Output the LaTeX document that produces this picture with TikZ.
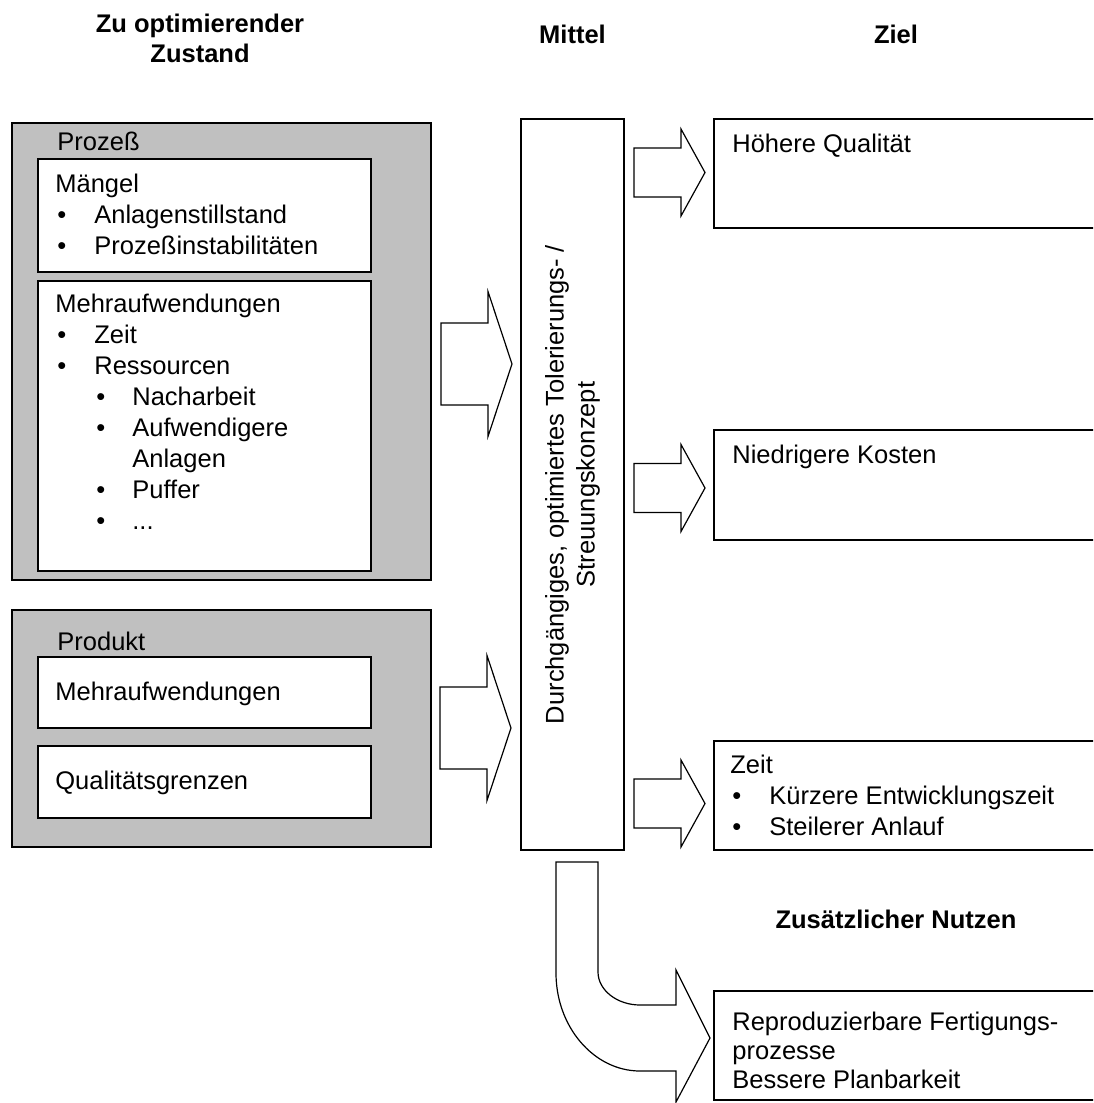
\documentclass[tikz,border=0pt]{standalone}
\usepackage{fontspec}
\setmainfont{Liberation Sans}
\usepackage{tikz}
\usetikzlibrary{calc,positioning}
\definecolor{boxgray}{HTML}{C0C0C0}
\tikzstyle{graybox} = [draw,fill=boxgray,line width=0.6pt,inner sep=0pt]
\tikzstyle{box} = [draw,fill=white,line width=0.6pt,inner sep=0pt]
\tikzstyle{txt} = [anchor=north west,align=left,inner sep=0pt,font=\fontsize{12.75pt}{15.5pt}\selectfont]
\tikzstyle{head} = [anchor=north,align=center,inner sep=0pt,font=\fontsize{12.75pt}{15pt}\selectfont\bfseries]
\tikzstyle{arrowline} = [draw,fill=white,line width=0.6pt,line join=miter]
\newcommand{\bul}{\makebox[19.5pt][l]{\hspace{1pt}\textbullet}}
\newcommand{\subbul}{\hspace{19.5pt}\makebox[19pt][l]{\hspace{1pt}\textbullet}}
% horizontal block arrow: start, tip, half shaft, half head, head length
\newcommand{\fatarrow}[5]{%
	\draw[arrowline] let \p1=(#1), \p2=(#2) in
		(\x1,\y1+#3) -- (\x2-#5,\y1+#3) -- (\x2-#5,\y1+#4) -- (\x2,\y1)
		-- (\x2-#5,\y1-#4) -- (\x2-#5,\y1-#3) -- (\x1,\y1-#3) -- cycle;}

\begin{document}
\begin{tikzpicture}[x=0.5pt,y=-0.5pt]
			\clip (0,0) rectangle (1093,1103);
			
			% Spaltenkoepfe
			\node[head] (hzustand) at (200,13.5) {Zu optimierender\\Zustand};
			\node[head] (hmittel) at (572.5,24.5) {Mittel};
			\node[head] (hziel) at (896,24.5) {Ziel};
			
			% Prozess
			\node[graybox,minimum width=209.5pt,minimum height=228.5pt] (prozess) at (221.5,351.5) {};
			\node[txt] (tprozess) at (57,131.5) {Prozeß};
			\node[box,minimum width=166.5pt,minimum height=56.5pt] (maengel) at (204.5,215.5) {};
			\node[txt] (tmaengel) at (55,173.5) {Mängel\\\bul Anlagenstillstand\\\bul Prozeßinstabilitäten};
			\node[box,minimum width=166.5pt,minimum height=145pt] (mehrauf) at (204.5,426) {};
			\node[txt] (tmehrauf) at (55,293.5) {Mehraufwendungen\\\bul Zeit\\\bul Ressourcen\\\subbul Nacharbeit\\\subbul Aufwendigere\\\hspace{38.5pt}Anlagen\\\subbul Puffer\\\subbul ...};
			
			% Produkt
			\node[graybox,minimum width=209.5pt,minimum height=118.5pt] (produkt) at (221.5,728.5) {};
			\node[txt] (tprodukt) at (57,631.5) {Produkt};
			\node[box,minimum width=166.5pt,minimum height=35.5pt] (prodmehr) at (204.5,692.5) {};
			\node[txt] (tprodmehr) at (55,681.5) {Mehraufwendungen};
			\node[box,minimum width=166.5pt,minimum height=36pt] (qualgr) at (204.5,782) {};
			\node[txt] (tqualgr) at (55,770.5) {Qualitätsgrenzen};
			
			% Mittel
			\node[box,minimum width=51.5pt,minimum height=365.5pt] (mittel) at (572.5,484.5) {};
			\node[align=center,rotate=90,inner sep=0pt,font=\fontsize{12.75pt}{15.5pt}\selectfont] (tmittel) at (mittel.center) {Durchgängiges, optimiertes Tolerierungs- /\\Streuungskonzept};
			
			% Ziele
			\node[box,minimum width=198pt,minimum height=54.5pt] (hoehere) at (912,173.5) {};
			\node[txt] (thoehere) at (732,133.5) {Höhere Qualität};
			\node[box,minimum width=198pt,minimum height=55pt] (niedrig) at (912,485) {};
			\node[txt] (tniedrig) at (732,444.5) {Niedrigere Kosten};
			\node[box,minimum width=198pt,minimum height=54.5pt] (zeit) at (912,795.5) {};
			\node[txt] (tzeit) at (730,754.5) {Zeit\\\bul Kürzere Entwicklungszeit\\\bul Steilerer Anlauf};
			
			\node[head] (hnutzen) at (896,909.5) {Zusätzlicher Nutzen};
			\node[box,minimum width=198pt,minimum height=54.5pt] (repro) at (912,1045.5) {};
			\node[txt,font=\fontsize{12.75pt}{14.5pt}\selectfont] (trepro) at (732,1011.5) {Reproduzierbare Fertigungs-\\prozesse\\Bessere Planbarkeit};
			
			% Pfeile
			\coordinate (a1s) at (441,364);
			\coordinate (a1e) at (512,364);
			\coordinate (a2s) at (440,728);
			\coordinate (a2e) at (511,728);
			\fatarrow{a1s}{a1e}{20.5pt}{36.25pt}{12pt}
			\fatarrow{a2s}{a2e}{20.5pt}{36.25pt}{12pt}
			
			\coordinate (r1s) at (634,172.5);
			\coordinate (r1e) at (705,172.5);
			\coordinate (r2s) at (634,488);
			\coordinate (r2e) at (705,488);
			\coordinate (r3s) at (634,803.5);
			\coordinate (r3e) at (705,803.5);
			\fatarrow{r1s}{r1e}{12.25pt}{21.75pt}{12pt}
			\fatarrow{r2s}{r2e}{12.25pt}{21.75pt}{12pt}
			\fatarrow{r3s}{r3e}{12.25pt}{21.75pt}{12pt}
			
			% gebogener Pfeil zum Zusatznutzen
			\draw[arrowline] (556,862) -- (598,862) -- (598,972)
				.. controls (598,990) and (617,1005) .. (640,1005) -- (676,1005) -- (676,970)
				-- (710,1038) -- (676,1102) -- (676,1071) -- (640,1071)
				.. controls (594,1071) and (556,1027) .. (556,973) -- cycle;
			
\end{tikzpicture}
\end{document}
